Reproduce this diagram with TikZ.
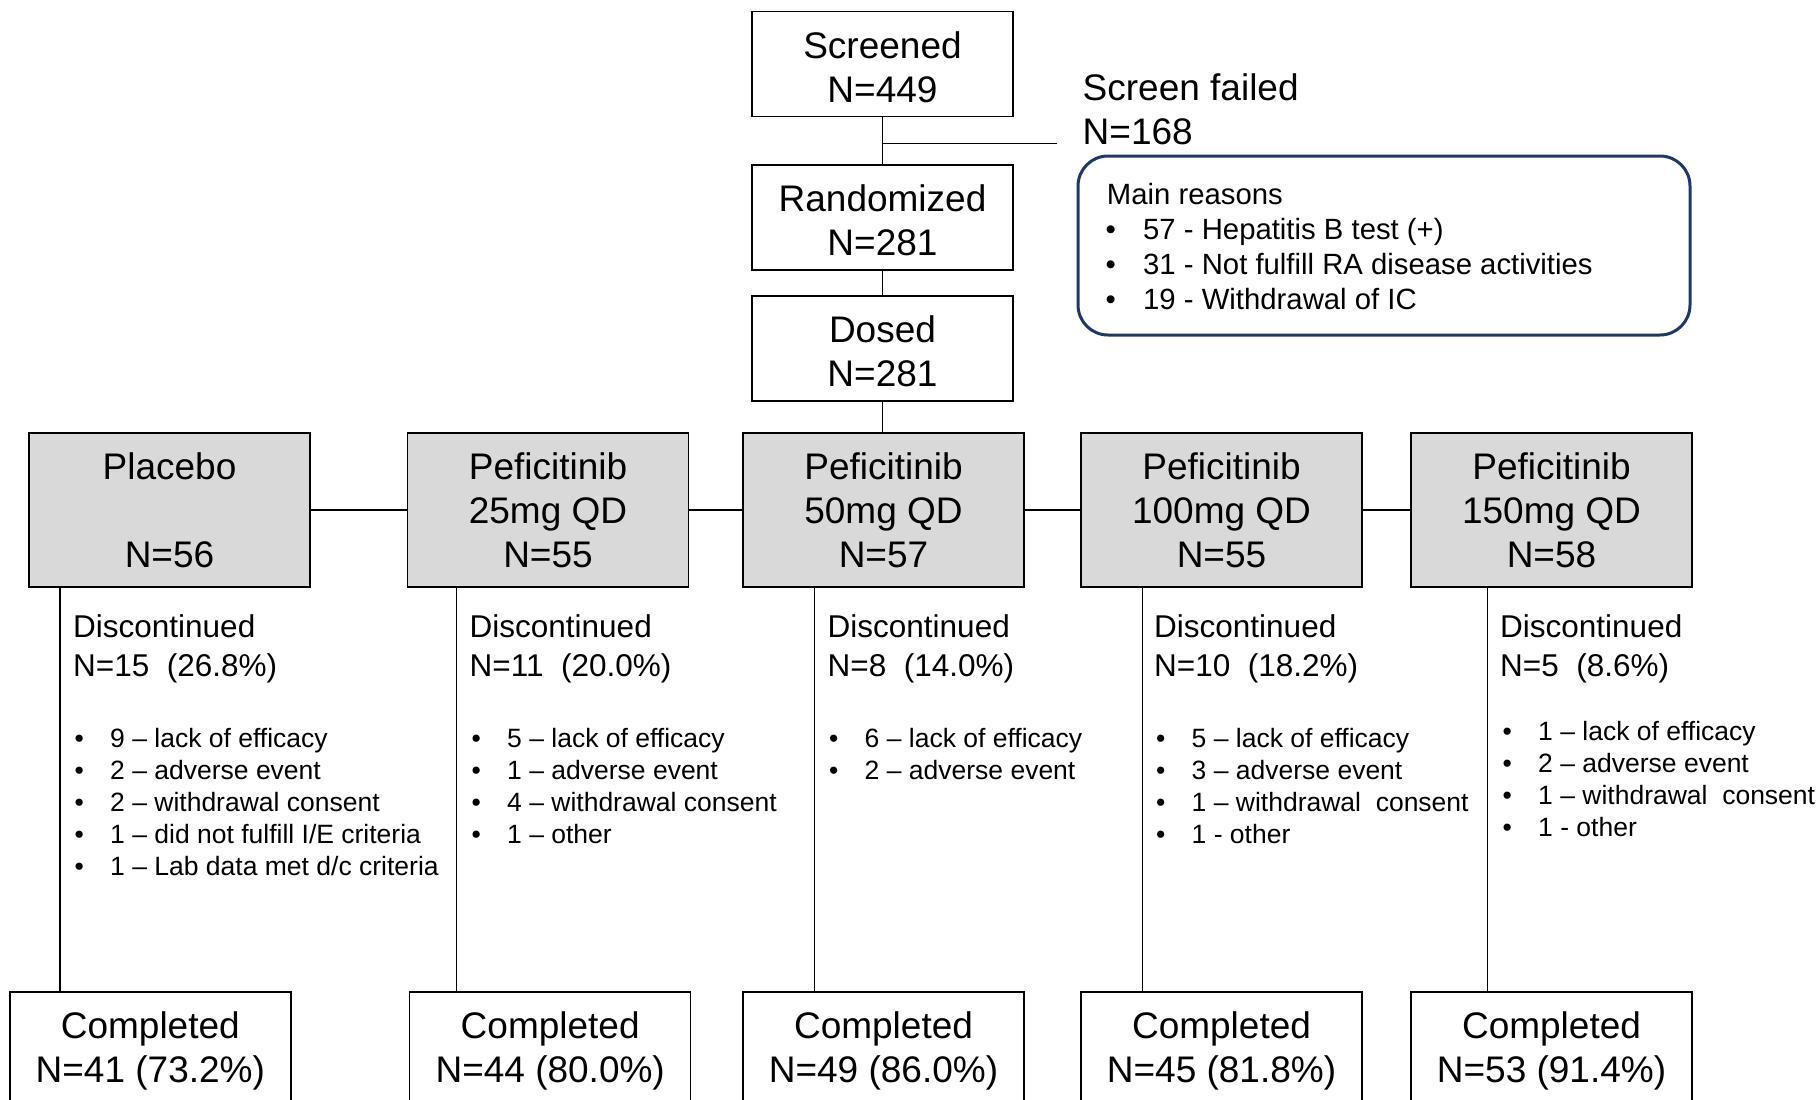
\documentclass[tikz,border=0pt]{standalone}
\usepackage{fontspec}
\setmainfont{Liberation Sans}
\definecolor{armgray}{HTML}{D9D9D9}
\definecolor{navyline}{HTML}{1F3864}
\newcommand{\bulitem}[2]{\makebox[#1][l]{\textbullet}#2}
\newcommand{\toppad}{\rule{0pt}{32pt}}
\newcommand{\comppad}{\rule{0pt}{33pt}}
\tikzset{
 box/.style={draw=black, line width=1.5pt, inner sep=0pt, minimum width=281pt, align=center, font=\fontsize{37}{44}\selectfont},
 plainbox/.style={box, fill=white, minimum width=261pt, minimum height=105pt},
 armbox/.style={box, fill=armgray, minimum height=154pt},
 compbox/.style={box, fill=white, minimum height=112pt},
 conn/.style={draw=black, line width=1.5pt},
 lnbig/.style={anchor=west, inner sep=0pt, text height=26pt, text depth=0pt, font=\fontsize{37}{44}\selectfont},
 lnmid/.style={anchor=west, inner sep=0pt, text height=22pt, text depth=0pt, font=\fontsize{31.5}{38}\selectfont},
 lnsmall/.style={anchor=west, inner sep=0pt, text height=18.6pt, text depth=0pt, font=\fontsize{26.5}{32}\selectfont},
 lnreason/.style={anchor=west, inner sep=0pt, text height=20.5pt, text depth=0pt, font=\fontsize{29.3}{35}\selectfont},
}
\begin{document}
\begin{tikzpicture}[x=1pt,y=-1pt]
\fill[white] (0,0) rectangle (1820,1100);
\useasboundingbox (0,0) rectangle (1820,1100);

% top flow
\node[plainbox] (scr) at (882.5,64.2) {\toppad Screened\\N=449};
\node[plainbox] (rand) at (882.5,217.5) {\toppad Randomized\\N=281};
\node[plainbox] (dosed) at (882.5,348.5) {\toppad Dosed\\N=281};

\coordinate (br) at (882.5,143.5);
\coordinate (brend) at (1057,143.5);
\draw[conn] (scr.south) -- (rand.north);
\draw[conn] (br) -- (brend);
\draw[conn] (rand.south) -- (dosed.north);

\node[lnbig] (sf1) at (1082.5,87) {Screen failed};
\node[lnbig] (sf2) at (1082.5,131.5) {N=168};

\node[draw=navyline, line width=3pt, rounded corners=30pt, minimum width=612pt, minimum height=179pt, inner sep=0pt] (reasons) at (1384,245.5) {};
\node[lnreason] (mr) at (1106.7,194) {Main reasons};
\node[lnreason] (mr1) at (1105.5,229) {\bulitem{37.5pt}{57 - Hepatitis B test (+)}};
\node[lnreason] (mr2) at (1105.5,264) {\bulitem{37.5pt}{31 - Not fulfill RA disease activities}};
\node[lnreason] (mr3) at (1105.5,299) {\bulitem{37.5pt}{19 - Withdrawal of IC}};

% arms
\node[armbox] (arm1) at (169.5,510) {Placebo\\[44pt]N=56};
\node[armbox] (arm2) at (548,510) {Peficitinib\\25mg QD\\N=55};
\node[armbox] (arm3) at (883.5,510) {Peficitinib\\50mg QD\\N=57};
\node[armbox] (arm4) at (1221.5,510) {Peficitinib\\100mg QD\\N=55};
\node[armbox] (arm5) at (1551.5,510) {Peficitinib\\150mg QD\\N=58};

\draw[conn] (dosed.south) -- (dosed.south |- arm3.north);
\draw[conn] (arm1.east) -- (arm2.west);
\draw[conn] (arm2.east) -- (arm3.west);
\draw[conn] (arm3.east) -- (arm4.west);
\draw[conn] (arm4.east) -- (arm5.west);

% completed
\node[compbox] (comp1) at (150.3,1048) {\comppad Completed\\N=41 (73.2\%)};
\node[compbox] (comp2) at (550.2,1048) {\comppad Completed\\N=44 (80.0\%)};
\node[compbox] (comp3) at (883.5,1048) {\comppad Completed\\N=49 (86.0\%)};
\node[compbox] (comp4) at (1221.5,1048) {\comppad Completed\\N=45 (81.8\%)};
\node[compbox] (comp5) at (1551.5,1048) {\comppad Completed\\N=53 (91.4\%)};

\coordinate (v1) at (60,0);
\coordinate (v2) at (456.6,0);
\coordinate (v3) at (814.5,0);
\coordinate (v4) at (1142.5,0);
\coordinate (v5) at (1487.5,0);
\draw[conn] (v1 |- arm1.south) -- (v1 |- comp1.north);
\draw[conn] (v2 |- arm2.south) -- (v2 |- comp2.north);
\draw[conn] (v3 |- arm3.south) -- (v3 |- comp3.north);
\draw[conn] (v4 |- arm4.south) -- (v4 |- comp4.north);
\draw[conn] (v5 |- arm5.south) -- (v5 |- comp5.north);

% discontinued: placebo
\node[lnmid] (d1a) at (73,626) {Discontinued};
\node[lnmid] (d1b) at (73,665) {N=15\ \ (26.8\%)};
\node[lnsmall] (d1l1) at (74.5,738.5) {\bulitem{35.5pt}{9 – lack of efficacy}};
\node[lnsmall] (d1l2) at (74.5,770.5) {\bulitem{35.5pt}{2 – adverse event}};
\node[lnsmall] (d1l3) at (74.5,802.5) {\bulitem{35.5pt}{2 – withdrawal consent}};
\node[lnsmall] (d1l4) at (74.5,834.5) {\bulitem{35.5pt}{1 – did not fulfill I/E criteria}};
\node[lnsmall] (d1l5) at (74.5,866.5) {\bulitem{35.5pt}{1 – Lab data met d/c criteria}};

% 25 mg
\node[lnmid] (d2a) at (469.5,626) {Discontinued};
\node[lnmid] (d2b) at (469.5,665) {N=11\ \ (20.0\%)};
\node[lnsmall] (d2l1) at (471.5,738.5) {\bulitem{35.5pt}{5 – lack of efficacy}};
\node[lnsmall] (d2l2) at (471.5,770.5) {\bulitem{35.5pt}{1 – adverse event}};
\node[lnsmall] (d2l3) at (471.5,802.5) {\bulitem{35.5pt}{4 – withdrawal consent}};
\node[lnsmall] (d2l4) at (471.5,834.5) {\bulitem{35.5pt}{1 – other}};

% 50 mg
\node[lnmid] (d3a) at (827.5,626) {Discontinued};
\node[lnmid] (d3b) at (827.5,665) {N=8\ \ (14.0\%)};
\node[lnsmall] (d3l1) at (829,738.5) {\bulitem{35.5pt}{6 – lack of efficacy}};
\node[lnsmall] (d3l2) at (829,770.5) {\bulitem{35.5pt}{2 – adverse event}};

% 100 mg
\node[lnmid] (d4a) at (1154,626) {Discontinued};
\node[lnmid] (d4b) at (1154,665) {N=10\ \ (18.2\%)};
\node[lnsmall] (d4l1) at (1156,738.5) {\bulitem{35.5pt}{5 – lack of efficacy}};
\node[lnsmall] (d4l2) at (1156,770.5) {\bulitem{35.5pt}{3 – adverse event}};
\node[lnsmall] (d4l3) at (1156,802.5) {\bulitem{35.5pt}{1 – withdrawal\ \ consent}};
\node[lnsmall] (d4l4) at (1156,834.5) {\bulitem{35.5pt}{1 - other}};

% 150 mg
\node[lnmid] (d5a) at (1500,626) {Discontinued};
\node[lnmid] (d5b) at (1500,665) {N=5\ \ (8.6\%)};
\node[lnsmall] (d5l1) at (1502.5,731.5) {\bulitem{35.5pt}{1 – lack of efficacy}};
\node[lnsmall] (d5l2) at (1502.5,763.5) {\bulitem{35.5pt}{2 – adverse event}};
\node[lnsmall] (d5l3) at (1502.5,795.5) {\bulitem{35.5pt}{1 – withdrawal\ \ consent}};
\node[lnsmall] (d5l4) at (1502.5,827.5) {\bulitem{35.5pt}{1 - other}};
\end{tikzpicture}
\end{document}
